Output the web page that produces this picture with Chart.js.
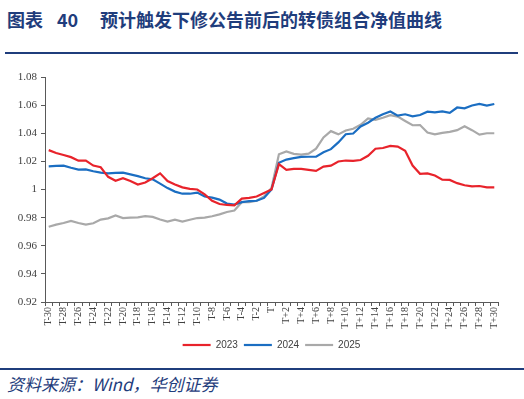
<html>
<head>
  <meta charset="utf-8">
  <title>转债组合净值曲线</title>
  <style>
    html, body { margin: 0; padding: 0; background: #fff; }
    #page { position: relative; width: 524px; height: 399px; overflow: hidden; }
    .title {
      position: absolute; top: 6px; font-family: "Noto Sans CJK SC", sans-serif;
      font-weight: bold; font-size: 18px; color: #1f3d7c; white-space: pre;
    }
    .rule { position: absolute; left: 5px; width: 513px; height: 2px; background: #1f3d7c; }
    #foot {
      position: absolute; left: 7px; top: 371px; font-family: "Noto Sans CJK SC", sans-serif;
      font-style: italic; font-size: 17px; color: #1f3d7c; white-space: nowrap;
    }
    #box { position: absolute; left: 0; top: 60px; width: 524px; height: 304px; }
  </style>
</head>
<body>
<div id="page">
  <div class="title" style="left:7px">图表</div>
  <div class="title" style="left:57px">40</div>
  <div class="title" style="left:100px">预计触发下修公告前后的转债组合净值曲线</div>
  <div class="rule" style="top:52px"></div>
  <div id="box"><canvas id="myChart"></canvas></div>
  <div class="rule" style="top:368px;left:0;width:524px"></div>
  <div id="foot">资料来源：Wind，华创证券</div>
</div>

<script src="https://cdn.jsdelivr.net/npm/chart.js"></script>
<script>
  // days around the expected trigger date
  var days = []
  for (var d = -30; d <= 30; d++) {
    days.push(d < 0 ? 'T' + d : (d === 0 ? 'T' : 'T+' + d))
  }

  var nav2023 = [1.028, 1.026, 1.0245, 1.023, 1.0205, 1.0205, 1.017, 1.0158, 1.009, 1.0062,
    1.008, 1.006, 1.0035, 1.005, 1.008, 1.0115, 1.006, 1.0035, 1.0015, 1.0005,
    1.0, 0.9965, 0.992, 0.9897, 0.989, 0.9887, 0.9935, 0.994, 0.995, 0.9975,
    1.0, 1.018, 1.014, 1.0147, 1.0147, 1.014, 1.0132, 1.0163, 1.017, 1.0199,
    1.0206, 1.0204, 1.021, 1.024, 1.029, 1.0295, 1.031, 1.0305, 1.0275, 1.017,
    1.0112, 1.0115, 1.010, 1.007, 1.0068, 1.0045, 1.003, 1.0022, 1.0025, 1.0015,
    1.0015]

  var nav2024 = [1.0165, 1.0168, 1.017, 1.0155, 1.0142, 1.0143, 1.013, 1.012, 1.0115, 1.0118,
    1.012, 1.0108, 1.0095, 1.008, 1.0072, 1.0042, 1.001, 0.9985, 0.997, 0.997,
    0.9978, 0.995, 0.9942, 0.9928, 0.990, 0.9893, 0.991, 0.9917, 0.992, 0.994,
    1.0, 1.019, 1.0213, 1.0223, 1.0232, 1.0233, 1.0233, 1.0265, 1.0287, 1.0335,
    1.0393, 1.0398, 1.0448, 1.0475, 1.051, 1.0535, 1.0555, 1.0525, 1.0535, 1.052,
    1.053, 1.0553, 1.0548, 1.0555, 1.0545, 1.0583, 1.0577, 1.0597, 1.0608, 1.0596,
    1.0608]

  var nav2025 = [0.9735, 0.975, 0.9762, 0.9777, 0.9762, 0.975, 0.976, 0.9786, 0.9795, 0.9815,
    0.9797, 0.980, 0.9802, 0.981, 0.9805, 0.9787, 0.9772, 0.9785, 0.9772, 0.9785,
    0.9797, 0.980, 0.981, 0.9823, 0.984, 0.985, 0.991, 0.991, 0.992, 0.995,
    1.001, 1.025, 1.027, 1.0253, 1.0248, 1.0255, 1.029, 1.037, 1.0415, 1.0392,
    1.042, 1.0432, 1.046, 1.0505, 1.0495, 1.051, 1.0528, 1.0518, 1.0487, 1.0457,
    1.0458, 1.0405, 1.0392, 1.0403, 1.041, 1.0422, 1.045, 1.0422, 1.039, 1.040,
    1.040]

  var seriesNames = ['2023', '2024', '2025']
  var colors = ['#e8232b', '#1b6ec2', '#a9a9a9']
  var yMin = 0.92, yMax = 1.08, yStep = 0.02

  var axisColor = '#595959'

  var data = {
    labels: days,
    datasets: [nav2023, nav2024, nav2025].map(function (v, i) {
      return {
        label: seriesNames[i],
        data: v,
        borderColor: colors[i],
        backgroundColor: colors[i],
        borderWidth: 2.2,
        pointRadius: 0,
        tension: 0
      }
    })
  }

  var config = {
    type: 'line',
    data: data,
    options: {
      responsive: true,
      maintainAspectRatio: false,
      animation: false,
      layout: { padding: { top: 17, right: 26, left: 0, bottom: 4 } },
      plugins: {
        legend: {
          position: 'bottom',
          fullSize: false,
          labels: {
            usePointStyle: true,
            pointStyle: 'line',
            pointStyleWidth: 28,
            boxHeight: 10,
            padding: 6,
            color: '#404040',
            font: { family: 'Liberation Sans', size: 10 }
          }
        },
        tooltip: { enabled: false }
      },
      scales: {
        x: {
          offset: true,
          grid: { display: true, drawOnChartArea: false, drawTicks: true, tickLength: 4, color: axisColor, offset: true },
          border: { color: axisColor, width: 1 },
          ticks: {
            autoSkip: false,
            maxRotation: 90,
            minRotation: 90,
            padding: 1,
            color: '#404040',
            font: { family: 'Liberation Serif', size: 10 },
            callback: function (val, idx) { return idx % 2 === 0 ? this.getLabelForValue(val) : '' }
          },
          afterFit: function (scale) { scale.height = 32 }
        },
        y: {
          min: yMin,
          max: yMax,
          grid: { display: true, drawOnChartArea: false, drawTicks: true, tickLength: 4, color: axisColor },
          border: { color: axisColor, width: 1 },
          ticks: {
            stepSize: yStep,
            padding: 4,
            color: '#404040',
            font: { family: 'Liberation Serif', size: 11 },
            callback: function (v) { return String(Number(v.toFixed(2))) }
          },
          afterFit: function (scale) { scale.width = 45 }
        }
      }
    }
  }

  var myChart = new Chart(document.getElementById('myChart'), config)
</script>
</body>
</html>
